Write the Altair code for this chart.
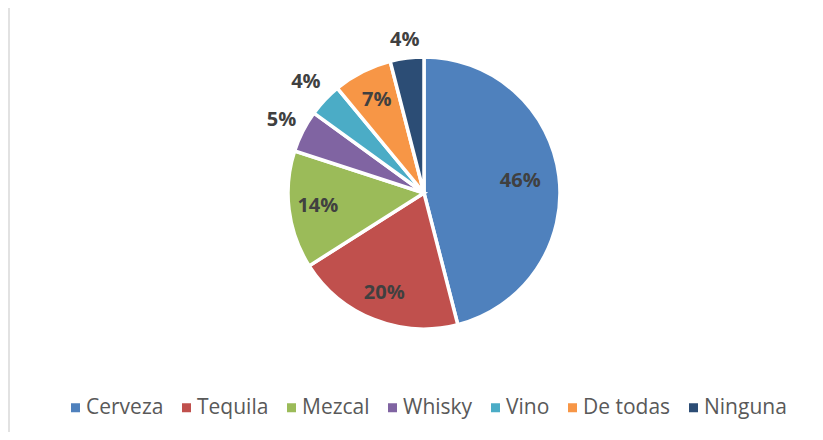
import altair as alt
import pandas as pd
import math

categories = ["Cerveza", "Tequila", "Mezcal", "Whisky", "Vino", "De todas", "Ninguna"]
values = [46, 20, 14, 5, 4, 7, 4]
colors = ["#4F81BD", "#C0504D", "#9BBB59", "#8064A2", "#4BACC6", "#F79646", "#2C4D75"]
label_radius = [97, 108, 107, 160, 162, 104, 154]

df = pd.DataFrame({
    "cat": categories,
    "pct": values,
    "idx": list(range(len(categories))),
    "lr": label_radius,
})
df["label"] = df["pct"].astype(str) + "%"

W, H = 807, 424
CX, CY, R = 416, 185, 136

theta_scale = alt.Scale(domain=[0, 100], range=[0, 2 * math.pi])

base = alt.Chart(df).transform_window(
    end="sum(pct)", sort=[alt.SortField("idx", order="ascending")]
).transform_calculate(
    start="datum.end - datum.pct",
    mid="datum.end - datum.pct / 2",
)

pie = base.mark_arc(outerRadius=R, stroke="white", strokeWidth=3.5).encode(
    x=alt.value(CX),
    y=alt.value(CY),
    theta=alt.Theta("start:Q", scale=theta_scale, stack=None),
    theta2="end:Q",
    color=alt.Color(
        "cat:N",
        scale=alt.Scale(domain=categories, range=colors),
        legend=alt.Legend(
            orient="none",
            legendX=57,
            legendY=389,
            direction="horizontal",
            title=None,
            symbolType="square",
            symbolSize=81,
            symbolStrokeWidth=0,
            labelFontSize=21,
            labelFont="Open Sans",
            labelColor="#595959",
            columnPadding=12,
            labelOffset=0,
            padding=0,
            labelLimit=300,
        ),
    ),
)

labels = base.mark_text(
    font="Open Sans", fontSize=20, fontWeight="bold", color="#404040"
).encode(
    x=alt.value(CX),
    y=alt.value(CY),
    theta=alt.Theta("mid:Q", scale=theta_scale, stack=None),
    radius=alt.Radius("lr:Q", scale=None),
    text="label:N",
)

border = alt.Chart(pd.DataFrame({"a": [0]})).mark_rule(
    color="#d9d9d9", strokeWidth=1.5
).encode(x=alt.value(1), y=alt.value(-4), y2=alt.value(H))

chart = alt.layer(border, pie, labels).properties(
    width=W, height=H, padding=0, autosize="none", background="white"
).configure_view(stroke=None)

chart.save("out.html", embed_options={"renderer": "svg", "actions": False})
